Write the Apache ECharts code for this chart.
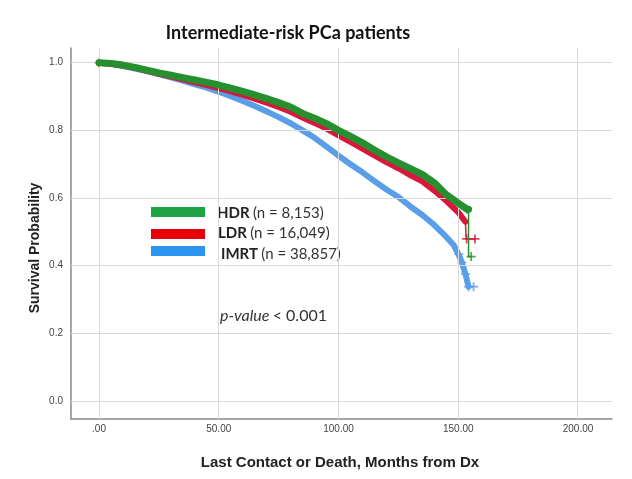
<!DOCTYPE html>
<html><head><meta charset="utf-8">
<script src="https://cdn.jsdelivr.net/npm/echarts@6/dist/echarts.min.js"></script>
<style>html,body{margin:0;padding:0;background:#fff}#c{width:632px;height:479px}</style>
</head><body><div id="c"></div>
<script>
// ---- data ----
const xTicks = [0, 50, 100, 150, 200];
const yTicks = [0, 0.2, 0.4, 0.6, 0.8, 1.0];
const hdrMonths = [0,5,10,15,20,25,30,35,40,45,50,55,60,65,70,75,80,85,90,95,100,105,110,115,120,125,130,135,140,145,150,153.6,154.3];
const hdrSurv   = [1.0,0.998,0.993,0.986,0.978,0.970,0.963,0.956,0.949,0.942,0.934,0.925,0.915,0.905,0.894,0.882,0.869,0.850,0.836,0.820,0.800,0.782,0.763,0.742,0.722,0.704,0.687,0.670,0.645,0.610,0.585,0.567,0.567];
const hdrDropMonths = [154.3,154.3,155.4];
const hdrDropSurv   = [0.567,0.427,0.427];
const hdrCensorMonths = [153.6,155.4];
const hdrCensorSurv   = [0.567,0.427];

const ldrMonths = [0,5,10,15,20,25,30,35,40,45,50,55,60,65,70,75,80,85,90,95,100,105,110,115,120,125,130,135,140,145,150,153];
const ldrSurv   = [1.0,0.997,0.992,0.985,0.976,0.967,0.959,0.951,0.942,0.934,0.925,0.915,0.905,0.894,0.882,0.869,0.855,0.838,0.822,0.805,0.785,0.766,0.746,0.726,0.706,0.688,0.668,0.649,0.622,0.592,0.558,0.530];
const ldrDropMonths = [153,153.3,157];
const ldrDropSurv   = [0.530,0.479,0.479];
const ldrCensorMonths = [0,153.5,157];
const ldrCensorSurv   = [1.0,0.479,0.479];

const imrtMonths = [0,5,10,15,20,25,30,35,40,45,50,55,60,65,70,75,80,85,90,95,100,105,110,115,120,125,130,135,140,145,148,150,151.5,153,154.3];
const imrtSurv   = [1.0,0.996,0.990,0.983,0.975,0.966,0.957,0.947,0.936,0.926,0.914,0.901,0.887,0.872,0.856,0.839,0.821,0.800,0.778,0.752,0.725,0.700,0.676,0.650,0.625,0.603,0.575,0.550,0.520,0.485,0.462,0.435,0.410,0.375,0.338];
const imrtDropMonths = [154.3,156.4];
const imrtDropSurv   = [0.338,0.338];
const imrtCensorMonths = [150.2,151.5,153,154.3,156.4];
const imrtCensorSurv   = [0.434,0.410,0.375,0.338,0.338];

const legendLabels = ['HDR', 'LDR', 'IMRT'];
const legendCounts = ['(n = 8,153)', '(n = 16,049)', '(n = 38,857)'];

// ---- helpers ----
const zip = (a, b) => a.map((v, i) => [v, b[i]]);
const plus = 'path://M4,0H6V4H10V6H6V10H4V6H0V4H4Z';
const cGreen = '#25902d', cRed = '#d9163b', cBlue = '#5b9ee8';

const chart = echarts.init(document.getElementById('c'), null, {renderer: 'canvas'});

const gridLineData = [];
xTicks.forEach(v => gridLineData.push([{coord: [v, -0.053]}, {coord: [v, 1.043]}]));
yTicks.forEach(v => gridLineData.push([{coord: [-11.7, v]}, {coord: [214.4, v]}]));

function curve(name, data, color, width, z) {
  return {type: 'line', name, xAxisIndex: 1, yAxisIndex: 1, data, showSymbol: false,
    symbol: 'none', clip: false, z, lineStyle: {color, width, join: 'round', cap: 'round'}, animation: false};
}
function censor(data, color, z) {
  return {type: 'scatter', xAxisIndex: 1, yAxisIndex: 1, data, symbol: plus, symbolSize: 9,
    itemStyle: {color}, z, clip: false, animation: false};
}
const legendRich = {b: {font: 'bold 15px Lato', fill: '#222'}, n: {font: '15px Lato', fill: '#333'}};

const option = {
  animation: false,
  grid: [
    {left: 71, right: 20, top: 48, bottom: 60},
    {left: 99, right: 54, top: 62.7, bottom: 78}
  ],
  xAxis: [
    {type: 'value', gridIndex: 0, min: -11.7, max: 214.4, axisLine: {show: true, onZero: false, lineStyle: {color: '#8a8a8a', width: 1.5}},
     axisTick: {show: false}, axisLabel: {show: false}, splitLine: {show: false}},
    {type: 'value', gridIndex: 1, min: 0, max: 200, interval: 50, axisLine: {show: false}, axisTick: {show: false}, splitLine: {show: false},
     axisLabel: {margin: 23, color: '#444', fontSize: 10, fontFamily: 'Liberation Sans',
       formatter: v => v === 0 ? '.00' : v.toFixed(2)}}
  ],
  yAxis: [
    {type: 'value', gridIndex: 0, min: -0.053, max: 1.043, axisLine: {show: true, onZero: false, lineStyle: {color: '#8a8a8a', width: 1.5}},
     axisTick: {show: false}, axisLabel: {show: false}, splitLine: {show: false}},
    {type: 'value', gridIndex: 1, min: 0, max: 1, interval: 0.2, axisLine: {show: false}, axisTick: {show: false}, splitLine: {show: false},
     axisLabel: {margin: 36, color: '#444', fontSize: 10, fontFamily: 'Liberation Sans', formatter: v => v.toFixed(1)}}
  ],
  series: [
    {type: 'line', xAxisIndex: 0, yAxisIndex: 0, data: [], z: 1, silent: true,
     markLine: {silent: true, symbol: 'none', label: {show: false}, animation: false,
       lineStyle: {color: '#d9d9d9', width: 1, type: 'solid'}, data: gridLineData}},
    curve('IMRT', zip(imrtMonths, imrtSurv), cBlue, 6, 3),
    curve('IMRTd', zip(imrtDropMonths, imrtDropSurv), cBlue, 1.5, 3),
    censor(zip(imrtCensorMonths, imrtCensorSurv), cBlue, 3),
    curve('LDR', zip(ldrMonths, ldrSurv), cRed, 6, 4),
    curve('LDRd', zip(ldrDropMonths, ldrDropSurv), cRed, 1.5, 4),
    censor(zip(ldrCensorMonths, ldrCensorSurv), cRed, 4),
    curve('HDR', zip(hdrMonths, hdrSurv), cGreen, 7, 5),
    curve('HDRd', zip(hdrDropMonths, hdrDropSurv), cGreen, 1.5, 5),
    censor(zip(hdrCensorMonths, hdrCensorSurv), cGreen, 5)
  ],
  graphic: [
    {type: 'text', x: 288, y: 33, style: {text: 'Intermediate-risk PCa patients', font: 'bold 18px Lato', fill: '#111', align: 'center', verticalAlign: 'middle'}},
    {type: 'text', x: 340, y: 463, style: {text: 'Last Contact or Death, Months from Dx', font: 'bold 15px "Liberation Sans"', fill: '#222', align: 'center', verticalAlign: 'middle'}},
    {type: 'text', x: 35, y: 248, rotation: Math.PI / 2, style: {text: 'Survival Probability', font: 'bold 14px "Liberation Sans"', fill: '#222', align: 'center', verticalAlign: 'middle'}},
    {type: 'rect', shape: {x: 151, y: 207, width: 54, height: 10}, style: {fill: '#1ea345'}},
    {type: 'rect', shape: {x: 151, y: 229, width: 54, height: 10}, style: {fill: '#e8000b'}},
    {type: 'rect', shape: {x: 151, y: 246, width: 54, height: 10}, style: {fill: '#2b95f0'}},
    {type: 'text', x: 217, y: 213, style: {text: '{b|' + legendLabels[0] + '} {n|' + legendCounts[0] + '}', verticalAlign: 'middle', rich: legendRich}},
    {type: 'text', x: 218, y: 233, style: {text: '{b|' + legendLabels[1] + '} {n|' + legendCounts[1] + '}', verticalAlign: 'middle', rich: legendRich}},
    {type: 'text', x: 221, y: 254, style: {text: '{b|' + legendLabels[2] + '} {n|' + legendCounts[2] + '}', verticalAlign: 'middle', rich: legendRich}},
    {type: 'text', x: 220, y: 316, style: {text: '{i|p-value} {n|< 0.001}', verticalAlign: 'middle',
       rich: {i: {font: 'italic 16px Lato', fill: '#333'}, n: {font: '16px Lato', fill: '#333'}}}}
  ]
};
chart.setOption(option);
</script></body></html>
